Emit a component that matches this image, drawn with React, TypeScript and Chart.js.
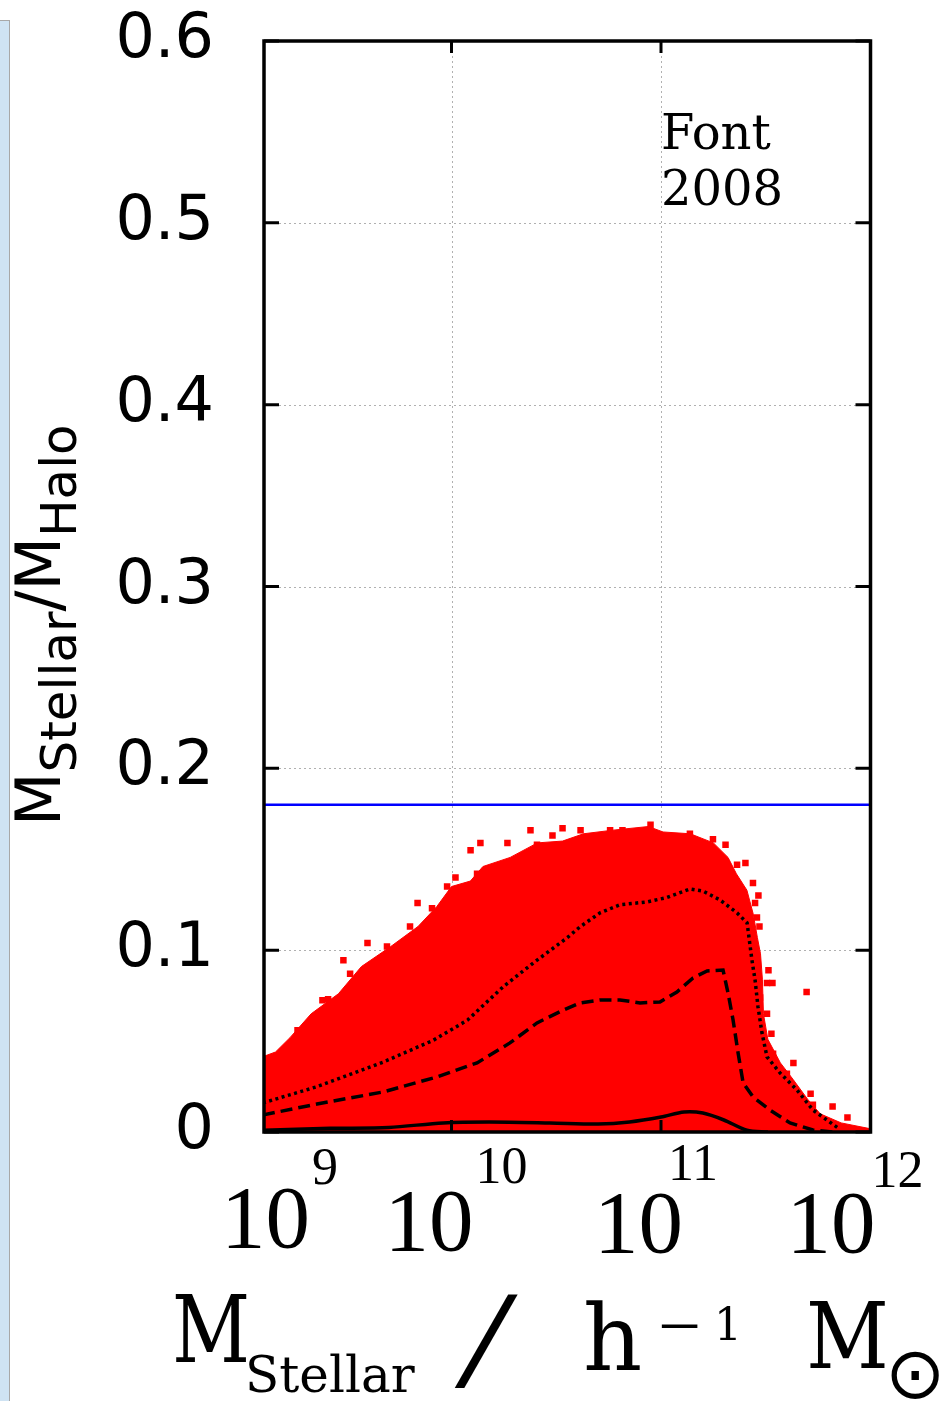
import React, { useEffect, useRef } from "react";
import { Chart, registerables } from "chart.js";

Chart.register(...registerables);

// ---------- axis ranges / ticks ----------
const X_MIN_LOG = 9.105;
const X_MAX_LOG = 12.0;
const Y_MIN = 0;
const Y_MAX = 0.6;
const Y_TICKS = [0, 0.1, 0.2, 0.3, 0.4, 0.5, 0.6];
const Y_TICK_LABELS = ["0", "0.1", "0.2", "0.3", "0.4", "0.5", "0.6"];
const X_TICK_VALUES = [1e9, 1e10, 1e11, 1e12];
const X_TICK_BASE = ["10", "10", "10", "10"];
const X_TICK_EXP = ["9", "10", "11", "12"];
const X_GRID_VALUES = [1e10, 1e11];

const BARYON_FRACTION = 0.18;
const ANNOTATION = ["Font", "2008"];

// ---------- red cloud: upper envelope (log10 M, ratio) ----------
const envelopeLogM = [
  9.09, 9.16, 9.23, 9.33, 9.46, 9.57, 9.71, 9.84, 9.93, 10.0, 10.09, 10.15,
  10.28, 10.41, 10.53, 10.63, 10.77, 10.94, 11.01, 11.14, 11.25, 11.32, 11.36,
  11.41, 11.44, 11.46, 11.475, 11.484, 11.489, 11.51, 11.57, 11.63, 11.7,
  11.76, 11.86, 11.99, 12.01,
];
const envelopeRatio = [
  0.041, 0.044, 0.052, 0.065, 0.076, 0.091, 0.102, 0.113, 0.124, 0.135, 0.138,
  0.146, 0.151, 0.159, 0.16, 0.164, 0.166, 0.168, 0.165, 0.164, 0.159, 0.151,
  0.142, 0.133, 0.12, 0.107, 0.098, 0.084, 0.065, 0.051, 0.038, 0.029, 0.018,
  0.01, 0.005, 0.002, 0.002,
];

// ---------- red cloud: scattered outliers ----------
const outlierLogM = [
  10.377, 10.53, 10.482, 10.138, 10.091, 10.019, 9.838, 9.599, 9.484, 9.384,
  9.265, 10.616, 10.267, 10.95, 10.816, 11.308, 11.403, 11.465, 11.47, 11.513,
  11.532, 11.695, 11.527, 11.632, 11.714, 11.819, 11.89, 10.408, 10.184,
  10.122, 9.979, 9.907, 9.802, 9.692, 9.516, 9.411, 9.277, 10.757, 11.138,
  11.248, 11.296, 11.363, 11.439, 11.449, 11.458, 11.458, 11.506, 11.473,
  11.506, 11.535, 11.601, 11.725,
];
const outlierRatio = [
  0.166, 0.167, 0.163, 0.159, 0.155, 0.14, 0.126, 0.104, 0.0945, 0.0725, 0.056,
  0.166, 0.159, 0.169, 0.166, 0.158, 0.148, 0.13, 0.113, 0.089, 0.082, 0.077,
  0.054, 0.038, 0.021, 0.014, 0.008, 0.158, 0.145, 0.142, 0.135, 0.123, 0.113,
  0.102, 0.087, 0.073, 0.055, 0.166, 0.164, 0.161, 0.149, 0.147, 0.137, 0.126,
  0.118, 0.095, 0.082, 0.074, 0.065, 0.043, 0.032, 0.015,
];

// ---------- dotted curve ----------
const dottedLogM = [
  9.1, 9.36, 9.675, 9.914, 10.076, 10.248, 10.391, 10.554, 10.613, 10.709,
  10.804, 10.933, 11.029, 11.138, 11.2, 11.282, 11.363, 11.411, 11.42, 11.434,
  11.449, 11.463, 11.482, 11.506, 11.568, 11.649, 11.725, 11.792, 11.845,
];
const dottedRatio = [
  0.016, 0.025, 0.0385, 0.0505, 0.0615, 0.08, 0.093, 0.107, 0.1128, 0.1205,
  0.125, 0.1265, 0.129, 0.1337, 0.1325, 0.1276, 0.1205, 0.115, 0.107, 0.0946,
  0.0836, 0.0688, 0.0545, 0.0413, 0.0325, 0.0231, 0.0121, 0.0066, 0.0022,
];

// ---------- dashed curve ----------
const dashedLogM = [
  9.1, 9.358, 9.673, 9.931, 10.122, 10.279, 10.408, 10.532, 10.613, 10.709,
  10.804, 10.9, 10.995, 11.076, 11.153, 11.22, 11.296, 11.32, 11.344, 11.368,
  11.392, 11.439, 11.52, 11.616, 11.725, 11.821,
];
const dashedRatio = [
  0.0094, 0.0154, 0.022, 0.0303, 0.038, 0.049, 0.06, 0.067, 0.071, 0.0726,
  0.0726, 0.071, 0.0715, 0.077, 0.0847, 0.0886, 0.0891, 0.0765, 0.0616, 0.0435,
  0.027, 0.0193, 0.0121, 0.005, 0.0011, 0.0,
];

// ---------- solid curve ----------
const solidLogM = [
  9.1, 9.42, 9.7, 9.96, 10.18, 10.47, 10.7, 10.85, 11.0, 11.11, 11.2, 11.3,
  11.41, 11.51,
];
const solidRatio = [
  0.001, 0.002, 0.0025, 0.005, 0.0055, 0.005, 0.0044, 0.0055, 0.0082, 0.011,
  0.0104, 0.0066, 0.001, 0.0,
];

// ---------- layout (not data) ----------
const X_TICK_LABEL_DX = [-21, -67, -67, -84];
const X_TICK_BASELINE = [1247, 1250, 1252, 1252];
const X_EXP_DX = [0, 0, -17, -6];
const X_EXP_BASELINE = [1184, 1183, 1180, 1187];

const toPoints = (lx: number[], ys: number[]) =>
  lx.map((v, i) => ({ x: Math.pow(10, v), y: ys[i] }));

const decorPlugin = {
  id: "decor",
  beforeDatasetsDraw(chart: any) {
    const { ctx, chartArea: a, scales } = chart;
    ctx.save();
    ctx.strokeStyle = "#b0b0b0";
    ctx.lineWidth = 1;
    ctx.setLineDash([2, 3]);
    for (const v of X_GRID_VALUES) {
      const px = Math.round(scales.x.getPixelForValue(v)) + 0.5;
      ctx.beginPath();
      ctx.moveTo(px, a.top);
      ctx.lineTo(px, a.bottom);
      ctx.stroke();
    }
    for (const v of Y_TICKS) {
      if (v <= Y_MIN || v >= Y_MAX) continue;
      const py = Math.round(scales.y.getPixelForValue(v)) + 0.5;
      ctx.beginPath();
      ctx.moveTo(a.left, py);
      ctx.lineTo(a.right, py);
      ctx.stroke();
    }
    ctx.restore();
  },
  afterDatasetsDraw(chart: any) {
    const { ctx, chartArea: a, scales } = chart;
    ctx.save();
    ctx.strokeStyle = "#000";
    ctx.setLineDash([]);
    ctx.lineWidth = 3;
    for (const v of Y_TICKS) {
      const py = scales.y.getPixelForValue(v);
      ctx.beginPath();
      ctx.moveTo(a.left, py);
      ctx.lineTo(a.left + 15, py);
      ctx.moveTo(a.right - 15, py);
      ctx.lineTo(a.right, py);
      ctx.stroke();
    }
    for (const v of X_GRID_VALUES) {
      const px = scales.x.getPixelForValue(v);
      ctx.beginPath();
      ctx.moveTo(px, a.top);
      ctx.lineTo(px, a.top + 12);
      ctx.moveTo(px, a.bottom - 12);
      ctx.lineTo(px, a.bottom);
      ctx.stroke();
    }
    ctx.lineWidth = 3.5;
    ctx.strokeRect(a.left, a.top, a.right - a.left, a.bottom - a.top);
    ctx.restore();
  },
  afterDraw(chart: any) {
    const { ctx, scales } = chart;
    ctx.save();
    ctx.fillStyle = "#000";
    ctx.textBaseline = "alphabetic";

    // y tick labels
    ctx.font = "62px 'DejaVu Sans'";
    ctx.textAlign = "right";
    Y_TICKS.forEach((v, i) => {
      const py = scales.y.getPixelForValue(v);
      ctx.fillText(Y_TICK_LABELS[i], 214, py + 16);
    });

    // x tick labels (10^n)
    ctx.textAlign = "left";
    X_TICK_VALUES.forEach((v, i) => {
      const px = scales.x.getPixelForValue(v) + X_TICK_LABEL_DX[i];
      ctx.font = "89px 'Liberation Serif'";
      ctx.fillText(X_TICK_BASE[i], px, X_TICK_BASELINE[i]);
      const w = ctx.measureText(X_TICK_BASE[i]).width;
      ctx.font = "52px 'Liberation Serif'";
      ctx.fillText(X_TICK_EXP[i], px + w + 2 + X_EXP_DX[i], X_EXP_BASELINE[i]);
    });

    // annotation
    ctx.font = "48px 'DejaVu Serif'";
    ctx.fillText(ANNOTATION[0], 661, 149);
    ctx.fillText(ANNOTATION[1], 661, 205);

    // x title: M_Stellar / h^-1 M_sun
    ctx.save();
    ctx.translate(172, 1362);
    ctx.scale(0.82, 1);
    ctx.font = "93px 'DejaVu Serif'";
    ctx.fillText("M", 0, 0);
    ctx.restore();
    ctx.font = "50px 'DejaVu Serif'";
    ctx.fillText("Stellar", 245, 1392);
    ctx.save();
    ctx.translate(452, 1381);
    ctx.scale(1.5, 1);
    ctx.font = "300 120px Roboto";
    ctx.fillText("/", 0, 0);
    ctx.restore();
    ctx.font = "92px 'DejaVu Serif'";
    ctx.fillText("h", 583, 1370);
    ctx.save();
    ctx.translate(656, 1340);
    ctx.scale(1.29, 1);
    ctx.font = "44px 'DejaVu Serif'";
    ctx.fillText("\u2212", 0, 0);
    ctx.restore();
    ctx.font = "44px 'DejaVu Serif'";
    ctx.fillText("1", 714, 1340);
    ctx.save();
    ctx.translate(806, 1368);
    ctx.scale(0.88, 1);
    ctx.font = "92px 'DejaVu Serif'";
    ctx.fillText("M", 0, 0);
    ctx.restore();
    ctx.font = "72px 'DejaVu Sans'";
    ctx.fillText("\u2299", 885, 1398);

    // y title: M_Stellar/M_Halo (rotated)
    ctx.save();
    ctx.rotate(-Math.PI / 2);
    let t = -826;
    const parts: [string, boolean][] = [
      ["M", false],
      ["Stellar", true],
      ["/M", false],
      ["Halo", true],
    ];
    for (const [s, sub] of parts) {
      ctx.font = sub ? "50px 'DejaVu Sans'" : "62px 'DejaVu Sans'";
      ctx.fillText(s, t, sub ? 76 : 60);
      t += ctx.measureText(s).width;
    }
    ctx.restore();

    ctx.restore();
  },
};

export default function App() {
  const ref = useRef<HTMLCanvasElement>(null);
  useEffect(() => {
    const xMin = Math.pow(10, X_MIN_LOG);
    const xMax = Math.pow(10, X_MAX_LOG);
    const chart = new Chart(ref.current as HTMLCanvasElement, {
      type: "line",
      data: {
        datasets: [
          {
            type: "line",
            data: toPoints(envelopeLogM, envelopeRatio),
            borderColor: "#ff0000",
            backgroundColor: "#ff0000",
            borderWidth: 1,
            pointRadius: 0,
            fill: "origin",
            tension: 0,
            order: 5,
          } as any,
          {
            type: "scatter",
            data: toPoints(outlierLogM, outlierRatio),
            backgroundColor: "#ff0000",
            borderWidth: 0,
            pointStyle: "rect",
            pointRadius: 4.6,
            order: 4,
          } as any,
          {
            type: "line",
            data: toPoints(solidLogM, solidRatio),
            borderColor: "#000",
            borderWidth: 3.5,
            pointRadius: 0,
            fill: false,
            tension: 0.3,
            order: 3,
          } as any,
          {
            type: "line",
            data: toPoints(dashedLogM, dashedRatio),
            borderColor: "#000",
            borderWidth: 3.5,
            borderDash: [12, 6],
            pointRadius: 0,
            fill: false,
            tension: 0,
            order: 2,
          } as any,
          {
            type: "line",
            data: toPoints(dottedLogM, dottedRatio),
            borderColor: "#000",
            borderWidth: 3.5,
            borderDash: [3, 3.5],
            pointRadius: 0,
            fill: false,
            tension: 0,
            order: 1,
          } as any,
          {
            type: "line",
            data: [
              { x: xMin, y: BARYON_FRACTION },
              { x: xMax, y: BARYON_FRACTION },
            ],
            borderColor: "#0000ff",
            borderWidth: 2.5,
            pointRadius: 0,
            fill: false,
            order: 0,
          } as any,
        ],
      },
      options: {
        responsive: false,
        devicePixelRatio: 1,
        animation: false,
        events: [],
        layout: { padding: { left: 264, right: 75.5, top: 41, bottom: 269 } },
        plugins: { legend: { display: false }, tooltip: { enabled: false } },
        scales: {
          x: { type: "logarithmic", display: false, min: xMin, max: xMax },
          y: { type: "linear", display: false, min: Y_MIN, max: Y_MAX },
        },
      },
      plugins: [decorPlugin],
    } as any);
    return () => chart.destroy();
  }, []);

  return (
    <div
      style={{
        position: "fixed",
        left: 0,
        top: 0,
        width: 946,
        height: 1401,
        background: "#ffffff",
        overflow: "hidden",
      }}
    >
      <div
        style={{
          position: "absolute",
          left: 0,
          top: 20,
          width: 9,
          height: 1381,
          background: "#cfe3f3",
          borderRight: "1px solid #a8a8a8",
          borderTop: "1px solid #a8a8a8",
        }}
      />
      <canvas
        ref={ref}
        width={946}
        height={1401}
        style={{ position: "absolute", left: 0, top: 0, width: 946, height: 1401 }}
      />
    </div>
  );
}
